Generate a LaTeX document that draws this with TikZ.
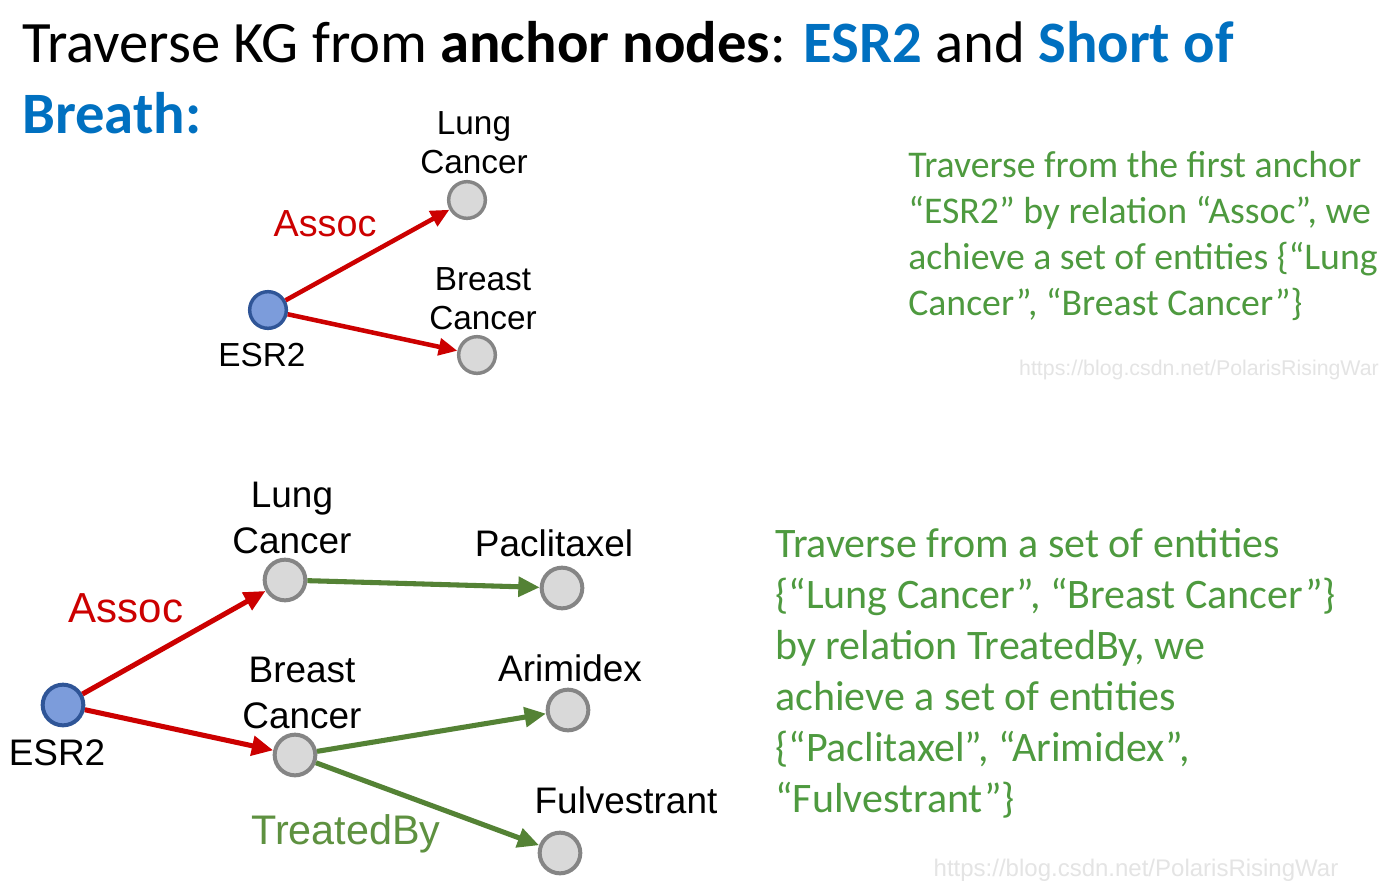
\documentclass[tikz,border=0pt]{standalone}
\usepackage{fontspec}
\setmainfont{Carlito}
\newfontfamily\arialf{Liberation Sans}
\usetikzlibrary{arrows.meta}
\definecolor{ttlblue}{HTML}{0070C0}
\definecolor{txtgreen}{HTML}{4E9A3F}
\definecolor{arrred}{HTML}{CC0000}
\definecolor{arrgreen}{HTML}{548235}
\definecolor{lblgreen}{HTML}{5E9140}
\definecolor{entfill}{HTML}{D9D9D9}
\definecolor{entdraw}{HTML}{858585}
\definecolor{ancfill}{HTML}{7C9CDB}
\definecolor{ancdraw}{HTML}{2F5597}
\definecolor{wmgray}{HTML}{E4E4E4}
\tikzset{
  entA/.style={circle,fill=entfill,draw=entdraw,line width=2.6pt,minimum size=27.5pt,inner sep=0pt},
  ancA/.style={entA,fill=ancfill,draw=ancdraw},
  entB/.style={entA,line width=3pt,minimum size=30.5pt},
  ancB/.style={entB,fill=ancfill,draw=ancdraw},
  redA/.style={draw=arrred,line width=3.4pt,-{Triangle[length=14pt,width=12.5pt]}},
  redB/.style={draw=arrred,line width=3.8pt,-{Triangle[length=16pt,width=14.5pt]}},
  greenB/.style={draw=arrgreen,line width=3.8pt,-{Triangle[length=16pt,width=14.5pt]}},
  lblA/.style={font=\arialf\fontsize{25}{29}\selectfont,align=center,inner sep=0pt},
  lblB/.style={font=\arialf\fontsize{27.7}{34}\selectfont,align=center,inner sep=0pt},
  para/.style={text=txtgreen,align=left,inner sep=0pt,anchor=north west},
  wm/.style={font=\arialf\fontsize{18}{20}\selectfont,text=wmgray,inner sep=0pt}
}
\begin{document}
\begin{tikzpicture}[x=0.75pt,y=-0.75pt]
\useasboundingbox[fill=white] (0,0) rectangle (1400,889);
% title
\node[anchor=base west,inner sep=0pt,font=\fontsize{44}{52}\selectfont] (title1) at (22,62)
  {Traverse KG from \textbf{anchor nodes}: \textcolor{ttlblue}{\textbf{ESR2}} and \textcolor{ttlblue}{\textbf{Short of}}};
\node[anchor=base west,inner sep=0pt,font=\fontsize{44}{52}\selectfont,text=ttlblue] (title2) at (22,133)
  {\textbf{Breath:}};
% top graph
\node[ancA] (e1) at (268,310) {};
\node[entA] (l1) at (467,200) {};
\node[entA] (b1) at (477,355) {};
\draw[redA] (e1) -- (l1);
\draw[redA] (e1) -- (b1);
\node[lblA] (e1t) at (262,355) {ESR2};
\node[lblA] (l1t) at (474,143) {Lung\\Cancer};
\node[lblA] (b1t) at (483,299) {Breast\\Cancer};
\node[lblA,text=arrred,font=\arialf\fontsize{28.3}{34}\selectfont] (as1) at (325,224) {Assoc};
\node[para,font=\fontsize{28.3}{34.5}\selectfont] (p1) at (908,151)
  {Traverse from the first anchor\\
   ``ESR2'' by relation ``Assoc'', we\\
   achieve a set of entities \{``Lung\\
   Cancer'', ``Breast Cancer''\}};
\node[wm,font=\arialf\fontsize{16}{18}\selectfont] (wm1) at (1199,370) {https://blog.csdn.net/PolarisRisingWar};
% bottom graph
\node[ancB] (e2) at (63,705) {};
\node[entB] (l2) at (285,580) {};
\node[entB] (b2) at (295,755) {};
\node[entB] (pa) at (562,588) {};
\node[entB] (ar) at (568,710) {};
\node[entB] (fu) at (560,853) {};
\draw[redB] (e2) -- (l2);
\draw[redB] (e2) -- (b2);
\draw[greenB] (l2) -- (pa);
\draw[greenB] (b2) -- (ar);
\draw[greenB] (b2) -- (fu);
\node[lblB] (e2t) at (57,753) {ESR2};
\node[lblB] (l2t) at (292,518) {Lung\\Cancer};
\node[lblB] (b2t) at (302,693) {Breast\\Cancer};
\node[lblB] (pat) at (554,543) {Paclitaxel};
\node[lblB] (art) at (570,668) {Arimidex};
\node[lblB] (fut) at (626,800) {Fulvestrant};
\node[lblB,text=arrred,font=\arialf\fontsize{31.5}{36}\selectfont] (as2) at (126,608) {Assoc};
\node[lblB,text=lblgreen,font=\arialf\fontsize{31}{36}\selectfont] (tb2) at (346,834) {TreatedBy};
\node[para,font=\fontsize{31.5}{38.25}\selectfont] (p2) at (775,528)
  {Traverse from a set of entities\\
   \{``Lung Cancer'', ``Breast Cancer''\}\\
   by relation TreatedBy, we\\
   achieve a set of entities\\
   \{``Paclitaxel'', ``Arimidex'',\\
   ``Fulvestrant''\}};
\node[wm] (wm2) at (1136,870) {https://blog.csdn.net/PolarisRisingWar};
\end{tikzpicture}
\end{document}
